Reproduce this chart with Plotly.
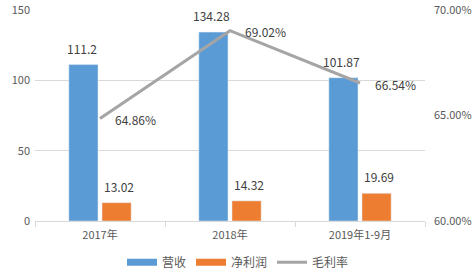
import plotly.graph_objects as go

categories = ["2017年", "2018年", "2019年1-9月"]
revenue = [111.2, 134.28, 101.87]
net_profit = [13.02, 14.32, 19.69]
gross_margin = [64.86, 69.02, 66.54]

left_ticks = [0, 50, 100, 150]
right_ticks = [60, 65, 70]

BLUE = "#5b9bd5"
ORANGE = "#ed7d31"
GRAY = "#a5a5a5"
FONT = "Noto Sans CJK SC"

fig = go.Figure()
fig.add_trace(go.Bar(x=categories, y=revenue, name="营收", marker_color=BLUE, showlegend=False))
fig.add_trace(go.Bar(x=categories, y=net_profit, name="净利润", marker_color=ORANGE, showlegend=False))
fig.add_trace(go.Scatter(x=categories, y=gross_margin, name="毛利率", mode="lines",
                         line=dict(color=GRAY, width=3), yaxis="y2", showlegend=False))

# legend entries (wide rectangle swatches)
fig.add_trace(go.Scatter(x=[None], y=[None], mode="lines", name="营收",
                         line=dict(color=BLUE, width=7)))
fig.add_trace(go.Scatter(x=[None], y=[None], mode="lines", name="净利润",
                         line=dict(color=ORANGE, width=7)))
fig.add_trace(go.Scatter(x=[None], y=[None], mode="lines", name="毛利率",
                         line=dict(color=GRAY, width=3)))

ann = []
for c, v in zip(categories, revenue):
    ann.append(dict(x=c, y=v, xref="x", yref="y", text=f"{v:g}", showarrow=False,
                    xshift=-18.5, yanchor="bottom", yshift=6,
                    font=dict(family=FONT, size=12, color="#404040")))
for c, v in zip(categories, net_profit):
    ann.append(dict(x=c, y=v, xref="x", yref="y", text=f"{v:.2f}", showarrow=False,
                    xshift=18.5, yanchor="bottom", yshift=6,
                    font=dict(family=FONT, size=12, color="#404040")))
for c, v in zip(categories, gross_margin):
    ann.append(dict(x=c, y=v, xref="x", yref="y2", text=f"{v:.2f}%", showarrow=False,
                    xanchor="left", xshift=13, yshift=-1,
                    font=dict(family=FONT, size=12, color="#404040")))

fig.update_layout(
    width=476, height=276,
    margin=dict(l=35, r=51, t=10, b=55),
    paper_bgcolor="white", plot_bgcolor="white",
    barmode="group", bargap=0.49, bargroupgap=0.12,
    font=dict(family=FONT, size=11, color="#595959"),
    xaxis=dict(showline=True, linecolor="#d9d9d9", linewidth=1, ticks="outside",
               tickson="boundaries", ticklen=5, tickcolor="#d9d9d9", automargin=False,
               ticklabelstandoff=4,
               tickfont=dict(size=11, color="#595959"), showgrid=False),
    yaxis=dict(range=[0, 150], tickvals=left_ticks, showgrid=True, gridcolor="#d9d9d9",
               zeroline=False, showline=False, automargin=False, ticklabelstandoff=4,
               tickfont=dict(size=11, color="#595959")),
    yaxis2=dict(range=[60, 70], tickvals=right_ticks, overlaying="y", side="right",
                ticktext=[f"{t:.2f}%" for t in right_ticks], showgrid=False, zeroline=False,
                automargin=False, ticklabelstandoff=8,
                tickfont=dict(size=11, color="#595959")),
    legend=dict(orientation="h", x=0.5, xanchor="center", xref="container",
                y=0.05, yanchor="middle", yref="container",
                font=dict(size=12, color="#595959"), itemwidth=30, tracegroupgap=0),
    annotations=ann,
)

fig.write_html("out.html")
